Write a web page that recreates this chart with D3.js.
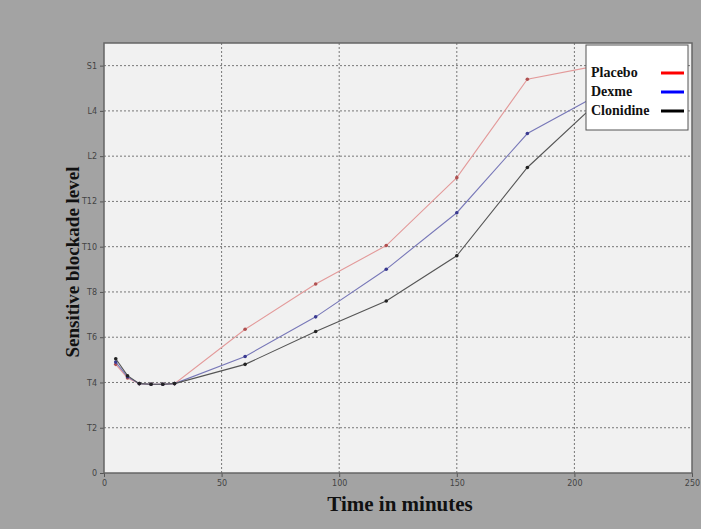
<!DOCTYPE html>
<html>
<head>
<meta charset="utf-8">
<script src="https://cdn.jsdelivr.net/npm/d3@7"></script>
<style>
  body { margin: 0; background: #a3a3a3; }
  svg { display: block; }
  .tick text { font-family: "DejaVu Sans", sans-serif; font-size: 8px; fill: #444; }
  .label { font-family: "Liberation Serif", serif; font-weight: bold; fill: #111; }
</style>
</head>
<body>
<script>
// data
const times = [5, 10, 15, 20, 25, 30, 60, 90, 120, 150, 180, 210];
const placebo = [4.8, 4.2, 3.95, 3.92, 3.92, 3.95, 6.35, 8.35, 10.05, 13.05, 17.4, 18.0];
const dexme = [4.9, 4.25, 3.95, 3.92, 3.92, 3.95, 5.15, 6.9, 9.0, 11.5, 15.0, 16.7];
const clonidine = [5.05, 4.3, 3.95, 3.92, 3.92, 3.95, 4.8, 6.25, 7.6, 9.6, 13.5, 16.4];
const seriesNames = ["Placebo", "Dexme", "Clonidine"];
const yTickValues = [0, 2, 4, 6, 8, 10, 12, 14, 16, 18];
const yTickLabels = ["0", "T2", "T4", "T6", "T8", "T10", "T12", "L2", "L4", "S1"];
const xTickValues = [0, 50, 100, 150, 200, 250];

const w = 701, h = 529;
const padL = 104, padR = 692, padT = 43, padB = 473;

const svg = d3.select("body").append("svg").attr("width", w).attr("height", h);

svg.append("rect").attr("width", w).attr("height", h).attr("fill", "#a3a3a3");

const xScale = d3.scaleLinear().domain([0, 250]).range([padL, padR]);
const yScale = d3.scaleLinear().domain([0, 19]).range([padB, padT]);

// plot area
svg.append("rect")
  .attr("x", padL).attr("y", padT)
  .attr("width", padR - padL).attr("height", padB - padT)
  .attr("fill", "#f1f1f1");

// grid
svg.append("g").selectAll("line")
  .data(yTickValues.slice(1))
  .enter().append("line")
  .attr("x1", padL).attr("x2", padR)
  .attr("y1", d => yScale(d)).attr("y2", d => yScale(d))
  .style("stroke", "#777").style("stroke-dasharray", "2,2");
svg.append("g").selectAll("line")
  .data(xTickValues.slice(1, -1))
  .enter().append("line")
  .attr("y1", padT).attr("y2", padB)
  .attr("x1", d => xScale(d)).attr("x2", d => xScale(d))
  .style("stroke", "#777").style("stroke-dasharray", "2,2");

// axes
const xAxis = d3.axisBottom(xScale).tickValues(xTickValues).tickSize(4).tickPadding(3);
const yAxis = d3.axisLeft(yScale).tickValues(yTickValues).tickSize(4).tickPadding(3)
  .tickFormat((d, i) => yTickLabels[i]);

svg.append("g").attr("transform", "translate(0," + padB + ")").call(xAxis)
  .call(g => g.select(".domain").remove())
  .call(g => g.selectAll(".tick line").style("stroke", "#555"));
svg.append("g").attr("transform", "translate(" + padL + ",0)").call(yAxis)
  .call(g => g.select(".domain").remove())
  .call(g => g.selectAll(".tick line").style("stroke", "#555"));

// frame
svg.append("rect")
  .attr("x", padL).attr("y", padT)
  .attr("width", padR - padL).attr("height", padB - padT)
  .attr("fill", "none").style("stroke", "#666").style("stroke-width", 1.5);

// lines
const series = [
  { name: seriesNames[0], values: placebo, line: "#e39a9a", dot: "#b05050", key: "red" },
  { name: seriesNames[1], values: dexme, line: "#7878b8", dot: "#3a3a90", key: "blue" },
  { name: seriesNames[2], values: clonidine, line: "#555", dot: "#222", key: "black" }
];

const line = d3.line().x((d, i) => xScale(times[i])).y(d => yScale(d));

series.forEach(s => {
  svg.append("path")
    .datum(s.values)
    .attr("d", line)
    .attr("fill", "none")
    .style("stroke", s.line).style("stroke-width", 1.1);
  svg.append("g").selectAll("circle")
    .data(s.values)
    .enter().append("circle")
    .attr("cx", (d, i) => xScale(times[i]))
    .attr("cy", d => yScale(d))
    .attr("r", 1.8)
    .style("fill", s.dot);
});

// legend
svg.append("rect")
  .attr("x", 586).attr("y", 45).attr("width", 102).attr("height", 85)
  .attr("fill", "#fff").style("stroke", "#555").style("stroke-width", 1);
series.forEach((s, i) => {
  svg.append("text")
    .attr("class", "label")
    .attr("x", 591).attr("y", 77 + i * 19)
    .style("font-size", "14px")
    .text(s.name);
  svg.append("line")
    .attr("x1", 661).attr("x2", 684)
    .attr("y1", 73 + i * 19).attr("y2", 73 + i * 19)
    .style("stroke", s.key).style("stroke-width", 3);
});

// axis titles
svg.append("text")
  .attr("class", "label")
  .attr("x", 400).attr("y", 511)
  .attr("text-anchor", "middle")
  .style("font-size", "21px")
  .text("Time in minutes");
svg.append("text")
  .attr("class", "label")
  .attr("transform", "translate(79,262) rotate(-90)")
  .attr("text-anchor", "middle")
  .style("font-size", "19px")
  .text("Sensitive blockade level");
</script>
</body>
</html>
